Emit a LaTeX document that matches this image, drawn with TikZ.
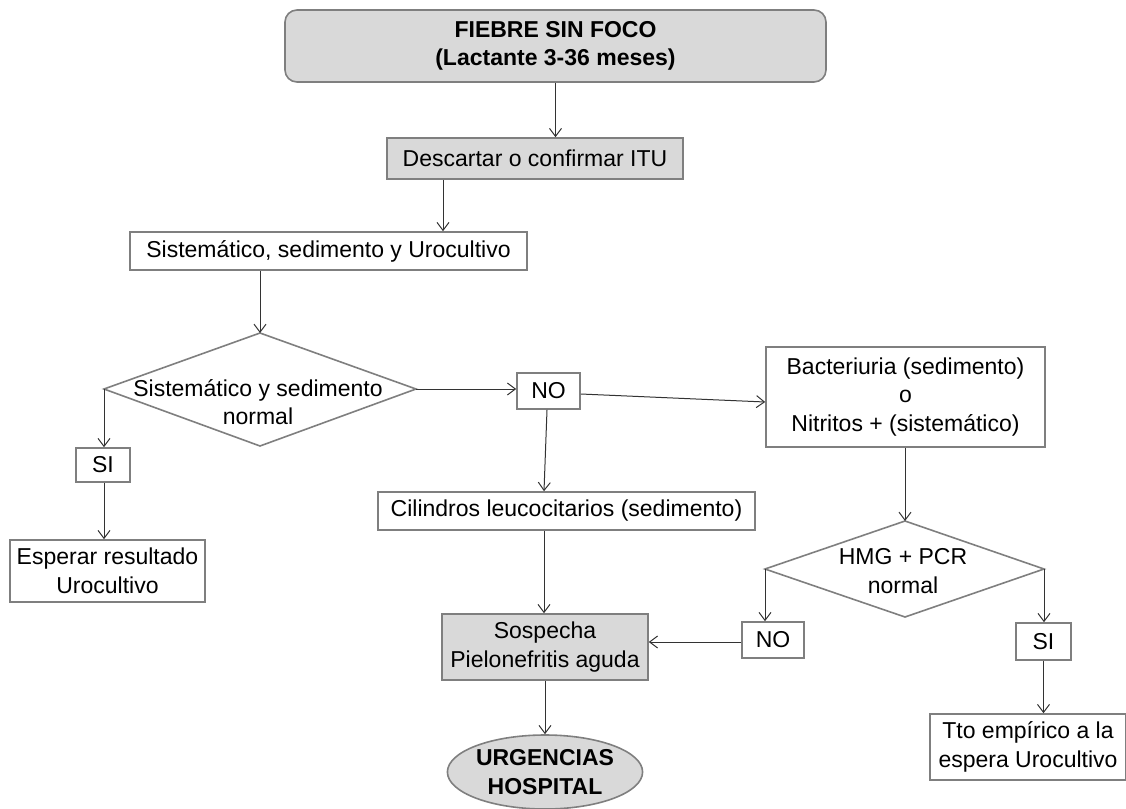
\documentclass[tikz,border=0pt]{standalone}
\usepackage{fontspec}
\setmainfont{Liberation Sans}
\usetikzlibrary{arrows.meta,shapes.geometric}
\definecolor{boxgray}{HTML}{D9D9D9}
\definecolor{bordergray}{HTML}{7F7F7F}
\definecolor{arrowc}{HTML}{333333}
\begin{document}
\begin{tikzpicture}[x=1pt,y=-1pt,
  font=\fontsize{23}{28.5}\selectfont,
  box/.style={draw=bordergray,line width=1.6pt,fill=white,inner sep=0pt,align=center,text=black},
  gbox/.style={box,fill=boxgray},
  arr/.style={draw=arrowc,line width=1pt,-{Straight Barb[length=8pt,width=12pt,line width=1pt]}},
  dia/.style={draw=bordergray,line width=1.6pt,fill=white,line join=miter}
]
\useasboundingbox (0,0) rectangle (1126,808);

% nodes
\node[gbox,rounded corners=12pt,minimum width=541pt,minimum height=72pt] (top) at (555.5,46) {\bfseries FIEBRE SIN FOCO\\\bfseries(Lactante 3-36 meses)};
\node[gbox,minimum width=296pt,minimum height=41pt] (desc) at (535,158.5) {Descartar o confirmar ITU};
\node[box,minimum width=397pt,minimum height=38pt] (sist) at (328.5,251) {Sistemático, sedimento y Urocultivo};

% diamond 1
\coordinate (d1t) at (260,333);
\coordinate (d1l) at (104,389);
\coordinate (d1r) at (416,389);
\coordinate (d1b) at (260,446);
\draw[dia] (d1t) -- (d1r) -- (d1b) -- (d1l) -- cycle;
\node[align=center] (d1) at (258,402) {Sistemático y sedimento\\normal};

\node[box,minimum width=63pt,minimum height=36pt] (no1) at (548.5,391) {NO};
\node[box,minimum width=54pt,minimum height=34pt] (si1) at (103,465) {SI};
\node[box,minimum width=195pt,minimum height=62pt] (esp) at (107.5,571) {Esperar resultado\\Urocultivo};

\node[box,minimum width=279pt,minimum height=100pt] (bact) at (905.5,397) {Bacteriuria (sedimento)\\o\\Nitritos + (sistemático)};
\node[box,minimum width=377pt,minimum height=38pt] (cil) at (566.5,511) {Cilindros leucocitarios (sedimento)};
\node[gbox,minimum width=206pt,minimum height=66pt] (sosp) at (545,647) {Sospecha\\Pielonefritis aguda};
\node[ellipse,draw=bordergray,line width=1.6pt,fill=boxgray,inner sep=0pt,minimum width=186pt,minimum height=74pt,align=center] (urg) at (545,772) {\bfseries URGENCIAS\\\bfseries HOSPITAL};

% diamond 2
\coordinate (d2t) at (905,521);
\coordinate (d2l) at (765,569);
\coordinate (d2r) at (1044,569);
\coordinate (d2b) at (905,617);
\draw[dia] (d2t) -- (d2r) -- (d2b) -- (d2l) -- cycle;
\node[align=center] (d2) at (903,571) {HMG + PCR\\normal};

\node[box,minimum width=62pt,minimum height=36pt] (no2) at (773,640) {NO};
\node[box,minimum width=55pt,minimum height=37pt] (si2) at (1043.5,641.5) {SI};
\node[box,minimum width=196pt,minimum height=66pt] (tto) at (1028,747) {Tto empírico a la\\espera Urocultivo};

% connectors
\draw[arr] (top.south) -- (desc.north -| top.south);
\draw[arr] (desc.south -| 443,0) -- (sist.north -| 443,0);
\draw[arr] (sist.south -| d1t) -- (d1t);
\draw[arr] (d1r) -- (no1.west |- d1r);
\draw[arr] (no1.east |- 0,394) -- (bact.west |- 0,402);
\draw[arr] (no1.south -| 547,0) -- (cil.north -| 544,0);
\draw[arr] (d1l) -- (si1.north -| d1l);
\draw[arr] (si1.south -| d1l) -- (esp.north -| d1l);
\draw[arr] (cil.south -| 544,0) -- (sosp.north -| 544,0);
\draw[arr] (sosp.south) -- (urg.north);
\draw[arr] (bact.south -| d2t) -- (d2t);
\draw[arr] (d2l) -- (no2.north -| d2l);
\draw[arr] (no2.west |- 0,642) -- (sosp.east |- 0,642);
\draw[arr] (d2r) -- (si2.north -| d2r);
\draw[arr] (si2.south) -- (tto.north -| si2.south);
\end{tikzpicture}
\end{document}
